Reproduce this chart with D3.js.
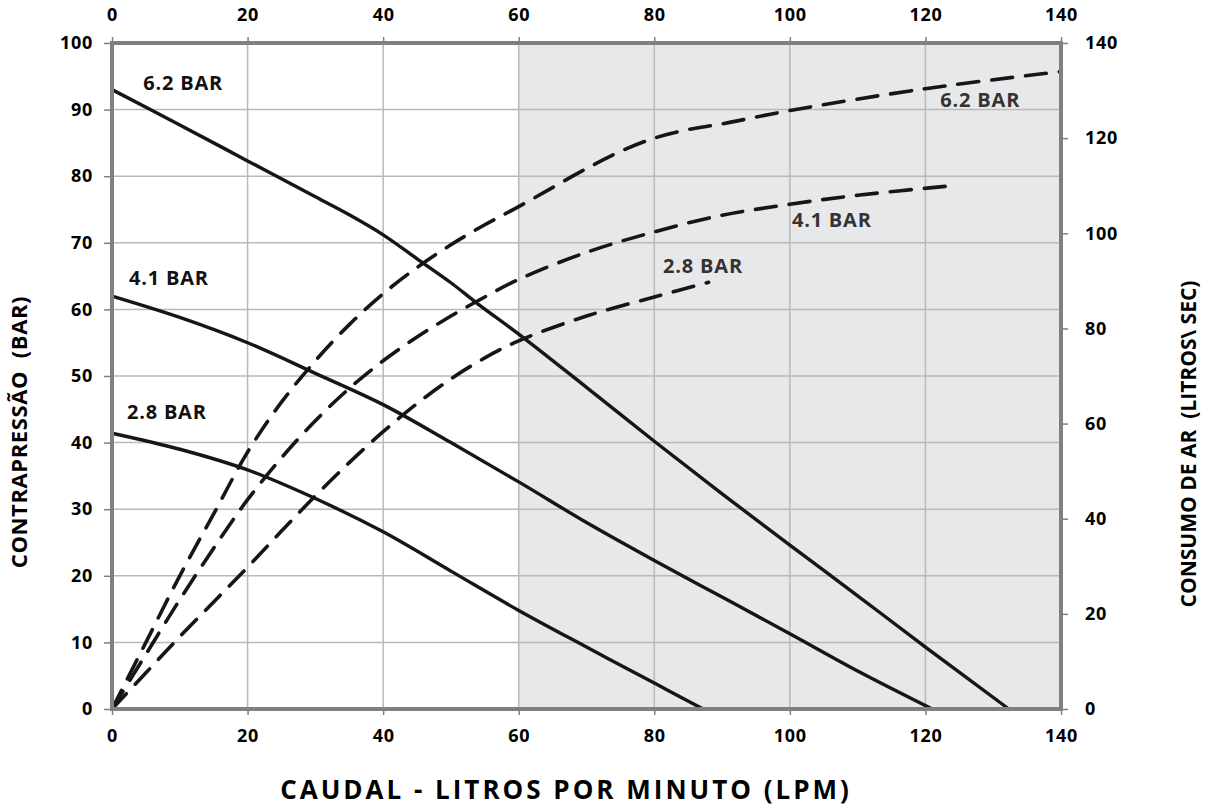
<!DOCTYPE html>
<html>
<head>
<meta charset="utf-8">
<script src="https://cdn.jsdelivr.net/npm/d3@7/dist/d3.min.js"></script>
<style>
  html, body { margin: 0; padding: 0; background: #fff; }
  svg text { font-family: "Open Sans", "Noto Sans", sans-serif; font-weight: 700; }
</style>
</head>
<body>
<svg id="chart" width="1208" height="809"></svg>
<script>
// ---- Data ----
const xTicks = [0, 20, 40, 60, 80, 100, 120, 140];
const yLeftTicks = [0, 10, 20, 30, 40, 50, 60, 70, 80, 90, 100];
const yRightTicks = [0, 20, 40, 60, 80, 100, 120, 140];
const shadedRange = [60, 140];

// Back pressure curves (left axis, BAR) vs flow (LPM)
const press62X = [0, 10, 20, 30, 35, 40, 45, 50, 54, 60, 70, 80, 90, 100, 110, 120, 132.3];
const press62Y = [93, 87.7, 82.3, 76.9, 74.2, 71.2, 67.6, 64.0, 60.8, 56.3, 48.3, 40.2, 32.3, 24.6, 17, 9.3, 0];
const press41X = [0, 10, 20, 30, 40, 50, 60, 70, 80, 90, 100, 110, 121];
const press41Y = [62, 58.8, 55.0, 50.4, 45.7, 40, 34.1, 28.0, 22.3, 16.8, 11.3, 5.7, 0];
const press28X = [0, 10, 20, 30, 40, 50, 60, 70, 80, 87.2];
const press28Y = [41.4, 39.0, 35.9, 31.6, 26.6, 20.7, 14.8, 9.3, 3.9, 0];

// Air consumption curves (right axis)
const air62X = [0, 5, 10, 15, 20, 25, 30, 35, 40, 45, 50, 55, 60, 70, 75, 80, 85, 90, 100, 120, 140];
const air62Y = [0, 14, 28, 41, 54, 64.5, 73.2, 80.8, 87.3, 92.8, 97.6, 101.8, 105.6, 113.6, 117.2, 120.0, 121.8, 123, 125.8, 130.4, 134];
const air41X = [0, 5, 10, 15, 20, 25, 30, 35, 40, 45, 50, 55, 60, 70, 80, 90, 100, 110, 124];
const air41Y = [0, 11.5, 23, 33.8, 44, 52.8, 60.6, 67.4, 73.2, 78.2, 82.6, 86.6, 90.3, 96, 100.3, 103.8, 106.1, 108, 110];
const air28X = [0, 5, 10, 15, 20, 25, 30, 35, 40, 45, 50, 55, 60, 70, 80, 88];
const air28Y = [0, 7.6, 15.2, 22.5, 29.8, 37.4, 44.8, 51.8, 58.3, 64.2, 69.4, 73.8, 77.4, 82.6, 86.6, 89.7];

const pressLabels = ["6.2 BAR", "4.1 BAR", "2.8 BAR"];
const airLabels = ["6.2 BAR", "4.1 BAR", "2.8 BAR"];

// ---- Layout ----
const svg = d3.select("#chart");
const L = 112, R = 1061, T = 43, B = 709;

const x = d3.scaleLinear().domain([0, 140]).range([L, R]);
const yL = d3.scaleLinear().domain([0, 100]).range([B, T]);
const yR = d3.scaleLinear().domain([0, 140]).range([B, T]);

// shaded region
svg.append("rect")
  .attr("x", x(shadedRange[0])).attr("y", T)
  .attr("width", x(shadedRange[1]) - x(shadedRange[0]))
  .attr("height", B - T)
  .attr("fill", "#e7e8ea");

// grid
const grid = svg.append("g");
grid.selectAll("line.v").data(xTicks.slice(1, -1)).join("line")
  .attr("x1", d => x(d)).attr("x2", d => x(d))
  .attr("y1", T).attr("y2", B)
  .attr("stroke", "#b9b9bb").attr("stroke-width", 1.5);
grid.selectAll("line.h").data(yLeftTicks.slice(1, -1)).join("line")
  .attr("x1", L).attr("x2", R)
  .attr("y1", d => yL(d)).attr("y2", d => yL(d))
  .attr("stroke", "#b9b9bb").attr("stroke-width", 1.5);

// axes
function styleAxis(g) {
  g.attr("font-size", null).attr("font-family", null);
  g.select(".domain").remove();
  g.selectAll(".tick line").attr("stroke", "#808080").attr("stroke-width", 1.5);
  g.selectAll(".tick text").attr("fill", "#000")
    .style("font-size", "18px").style("font-weight", "700")
    .style("letter-spacing", "0.7px")
    .style("font-family", "'Open Sans', sans-serif");
}
svg.append("g").attr("transform", `translate(0,${B})`)
  .call(d3.axisBottom(x).tickValues(xTicks).tickSize(6).tickPadding(14))
  .call(styleAxis);
svg.append("g").attr("transform", `translate(0,${T})`)
  .call(d3.axisTop(x).tickValues(xTicks).tickSize(6).tickPadding(16))
  .call(styleAxis);
svg.append("g").attr("transform", `translate(${L},0)`)
  .call(d3.axisLeft(yL).tickValues(yLeftTicks).tickSize(8).tickPadding(11))
  .call(styleAxis);
svg.append("g").attr("transform", `translate(${R},0)`)
  .call(d3.axisRight(yR).tickValues(yRightTicks).tickSize(7).tickPadding(17))
  .call(styleAxis);

// curves
const pressLine = d3.line().x(d => x(d[0])).y(d => yL(d[1])).curve(d3.curveCatmullRom.alpha(0.5));
const airLine = d3.line().x(d => x(d[0])).y(d => yR(d[1])).curve(d3.curveCatmullRom.alpha(0.5));
const zip = (a, b) => a.map((v, i) => [v, b[i]]);

const airSeries = [zip(air62X, air62Y), zip(air41X, air41Y), zip(air28X, air28Y)];
const pressSeries = [zip(press62X, press62Y), zip(press41X, press41Y), zip(press28X, press28Y)];

svg.append("g").selectAll("path").data(airSeries).join("path")
  .attr("d", airLine)
  .attr("fill", "none").attr("stroke", "#161616")
  .attr("stroke-width", 3.6).attr("stroke-dasharray", "21,13")
  .attr("stroke-linecap", "round");

svg.append("g").selectAll("path").data(pressSeries).join("path")
  .attr("d", pressLine)
  .attr("fill", "none").attr("stroke", "#161616")
  .attr("stroke-width", 3.4);

// frame
svg.append("rect")
  .attr("x", L).attr("y", T).attr("width", R - L).attr("height", B - T)
  .attr("fill", "none").attr("stroke", "#808080").attr("stroke-width", 4);

// curve labels
const pressLabelPos = [[4.6, 93.0], [2.5, 63.6], [2.2, 43.6]];
svg.append("g").selectAll("text").data(pressLabels).join("text")
  .attr("x", (d, i) => x(pressLabelPos[i][0]))
  .attr("y", (d, i) => yL(pressLabelPos[i][1]))
  .style("font-size", "20px").style("letter-spacing", "0.8px")
  .attr("fill", "#111").text(d => d);

const airLabelPos = [[122.2, 126.5], [100.3, 101.4], [81.3, 91.6]];
svg.append("g").selectAll("text").data(airLabels).join("text")
  .attr("x", (d, i) => x(airLabelPos[i][0]))
  .attr("y", (d, i) => yR(airLabelPos[i][1]))
  .style("font-size", "20px").style("letter-spacing", "0.8px")
  .attr("fill", "#333").text(d => d);

// axis titles
svg.append("text")
  .attr("x", 566).attr("y", 799)
  .attr("text-anchor", "middle")
  .style("font-size", "26px").style("letter-spacing", "3px")
  .attr("fill", "#000")
  .text("CAUDAL - LITROS POR MINUTO (LPM)");
svg.append("text")
  .attr("transform", "translate(27,432) rotate(-90)")
  .attr("text-anchor", "middle")
  .style("font-size", "22px").style("letter-spacing", "0.6px").style("white-space", "pre")
  .attr("fill", "#000")
  .text("CONTRAPRESSÃO  (BAR)");
svg.append("text")
  .attr("transform", "translate(1196,444) rotate(-90)")
  .attr("text-anchor", "middle")
  .style("font-size", "21px").style("white-space", "pre")
  .attr("fill", "#000")
  .text("CONSUMO DE AR  (LITROS\\ SEC)");
</script>
</body>
</html>
